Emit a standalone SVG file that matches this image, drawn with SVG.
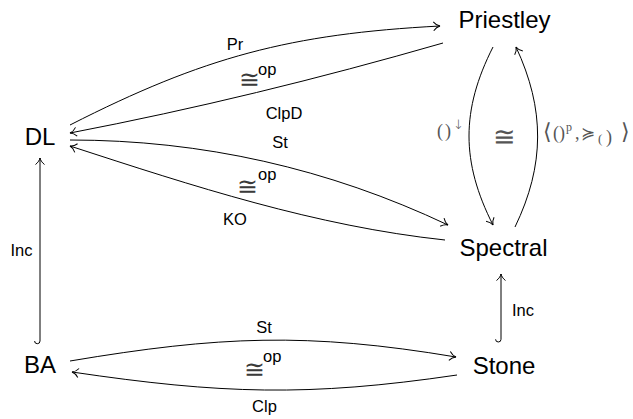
<svg xmlns="http://www.w3.org/2000/svg" width="633" height="419" viewBox="0 0 633 419">
  <style>
    .node { font-family: "Liberation Sans", Arial, sans-serif; font-size: 24px; fill: #000; text-anchor: middle; }
    .lbl { font-family: "Liberation Sans", Arial, sans-serif; font-size: 16.5px; fill: #000; }
    .mid { text-anchor: middle; }
    .cong { font-family: "DejaVu Sans", sans-serif; font-weight: 200; font-size: 25px; fill: #3a3a3a; }
    .math { font-family: "Liberation Serif", "DejaVu Serif", serif; font-size: 18px; fill: #555; }
    .sym { font-family: "DejaVu Sans", sans-serif; font-weight: 200; fill: #555; }
    .edge { fill: none; stroke: #000; stroke-width: 1; }
    .arrow { marker-end: url(#tip); }
  </style>
  <defs>
    <marker id="tip" markerUnits="userSpaceOnUse" markerWidth="12" markerHeight="12" viewBox="-9 -6 12 12" refX="0" refY="0" orient="auto" overflow="visible">
      <path d="M-6.5,-4.5 C-4.5,-1.8 -1.8,-0.4 0,0 C-1.8,0.4 -4.5,1.8 -6.5,4.5" fill="none" stroke="#000" stroke-width="1"/>
    </marker>
  </defs>

  <!-- nodes -->
  <g id="priestley"><text class="node" x="504.5" y="28">Priestley</text></g>
  <g id="dl"><text class="node" x="40" y="145">DL</text></g>
  <g id="spectral"><text class="node" x="503.5" y="256">Spectral</text></g>
  <g id="ba"><text class="node" x="40" y="373">BA</text></g>
  <g id="stone"><text class="node" x="504" y="374">Stone</text></g>

  <!-- connectors -->
  <g id="connectors">
    <!-- DL <-> Priestley -->
    <path class="edge arrow" d="M70,125 C203.7,56.9 290.2,33.9 440,26"/>
    <path class="edge arrow" d="M443,43 C318,79 195,109 70,133"/>
    <!-- DL <-> Spectral -->
    <path class="edge arrow" d="M70,140 C202.4,140 328.4,168.4 448,225"/>
    <path class="edge arrow" d="M445,240 C315.6,226.2 192.8,186 70,146"/>
    <!-- Priestley <-> Spectral -->
    <path class="edge arrow" d="M493,47 C461,110 461,162 493,225"/>
    <path class="edge arrow" d="M515,227 C545,165 545,109 516,47"/>
    <!-- inclusions -->
    <path class="edge arrow" d="M34.6,341 A2.7,2.7 0 0 0 40,341 V158"/>
    <path class="edge arrow" d="M495.6,339.3 A2.7,2.7 0 0 0 501,339.3 V274"/>
    <!-- BA <-> Stone -->
    <path class="edge arrow" d="M70,361 C219,336 307,332 456,357"/>
    <path class="edge arrow" d="M457,375 C308,397 221,394 72,372"/>
  </g>

  <!-- edge labels -->
  <g id="labels">
    <text class="lbl mid" x="235" y="50">Pr</text>
    <text class="cong" x="239" y="88">≅</text>
    <text class="lbl" x="258" y="75">op</text>
    <text class="lbl mid" x="284" y="119">ClpD</text>

    <text class="lbl mid" x="280" y="148">St</text>
    <text class="cong" x="237" y="195">≅</text>
    <text class="lbl" x="258" y="180">op</text>
    <text class="lbl mid" x="235" y="225">KO</text>

    <text class="lbl mid" x="21.5" y="256">Inc</text>
    <text class="lbl" x="512" y="316">Inc</text>

    <text class="lbl mid" x="264" y="333">St</text>
    <text class="cong" x="244" y="378">≅</text>
    <text class="lbl" x="263" y="362">op</text>
    <text class="lbl mid" x="264.5" y="412">Clp</text>

    <!-- functor labels between Priestley and Spectral -->
    <text class="math" y="137"><tspan x="437">(</tspan><tspan x="445">)</tspan><tspan x="453" y="129" class="sym" font-size="13">↓</tspan></text>
    <text class="sym" x="493" y="146" font-size="27">≅</text>
    <text class="math" y="139"><tspan x="543" class="sym" font-size="22">⟨</tspan><tspan x="553">(</tspan><tspan x="559">)</tspan><tspan x="566" y="131" font-size="12">p</tspan><tspan x="575" y="139">,</tspan><tspan x="581" class="sym" font-size="17">≽</tspan><tspan x="598" y="143" font-size="13">(</tspan><tspan x="606">)</tspan><tspan x="621" y="139" class="sym" font-size="22">⟩</tspan></text>
  </g>
</svg>
